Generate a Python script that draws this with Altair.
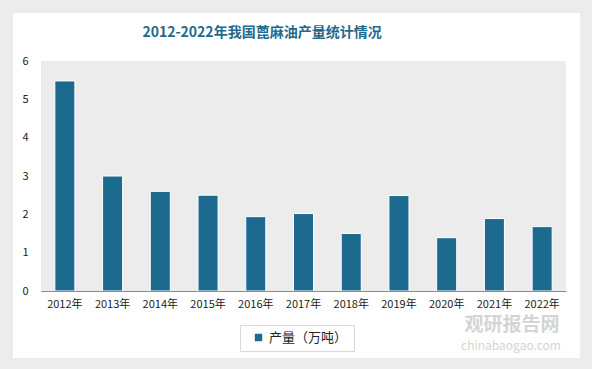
import altair as alt
import pandas as pd

years = ["2012年", "2013年", "2014年", "2015年", "2016年", "2017年",
         "2018年", "2019年", "2020年", "2021年", "2022年"]
values = [5.48, 3.0, 2.6, 2.5, 1.94, 2.02, 1.5, 2.49, 1.39, 1.89, 1.68]
series_name = "产量（万吨）"
title_text = "2012-2022年我国蓖麻油产量统计情况"

df = pd.DataFrame({"year": years, "value": values, "series": series_name})

FONT = "Noto Sans CJK SC"
BAR = "#1c6b8f"
W, H = 525, 230

one = alt.Data(values=[{}])

card = alt.Chart(one).mark_rect(color="white").encode(
    x=alt.value(-28), x2=alt.value(539), y=alt.value(-48), y2=alt.value(297)
)
plotbg = alt.Chart(one).mark_rect(color="#ececec").encode(
    x=alt.value(0), x2=alt.value(W), y=alt.value(0), y2=alt.value(H)
)

bars = alt.Chart(df).mark_bar(stroke="white", strokeWidth=1).encode(
    x=alt.X("year:N", sort=years, title=None,
            scale=alt.Scale(paddingInner=0.58, paddingOuter=0.29),
            axis=alt.Axis(labelAngle=0, ticks=False, domainColor="#8c8c8c",
                          labelFont=FONT, labelFontSize=11, labelColor="#222",
                          labelPadding=7, zindex=1)),
    y=alt.Y("value:Q", title=None,
            scale=alt.Scale(domain=[0, 6], nice=False),
            axis=alt.Axis(values=[0, 1, 2, 3, 4, 5, 6], domain=False, ticks=False,
                          grid=False, labelFont=FONT, labelFontSize=11,
                          labelColor="#222", labelPadding=13, zindex=1)),
    color=alt.Color("series:N", scale=alt.Scale(range=[BAR]),
                    legend=alt.Legend(title=None, orient="none", legendX=199, legendY=264,
                                      direction="horizontal", strokeColor="#d9d9d9",
                                      padding=6, symbolType="square", symbolSize=80,
                                      labelFont=FONT, labelFontSize=13, labelColor="#222",
                                      symbolOffset=6, zindex=1)),
)

title = alt.Chart(one).mark_text(
    text=title_text, font=FONT, fontSize=14, fontWeight="bold",
    color="#1f6a8e", align="center", baseline="middle"
).encode(x=alt.value(221), y=alt.value(-28))

wm1 = alt.Chart(one).mark_text(
    text="观研报告网", font=FONT, fontSize=19, fontWeight="bold",
    color="#d4d4d4", align="center", baseline="middle"
).encode(x=alt.value(471), y=alt.value(264))
wm2 = alt.Chart(one).mark_text(
    text="chinabaogao.com", font=FONT, fontSize=12,
    color="#d4d4d4", align="center", baseline="middle"
).encode(x=alt.value(470), y=alt.value(285))

chart = alt.layer(card, plotbg, bars, title, wm1, wm2).properties(
    width=W, height=H,
    autosize=alt.AutoSizeParams(type="none"),
    padding={"left": 41, "top": 61, "right": 26, "bottom": 78},
    background="#ececec",
).configure_view(stroke=None)

chart.save("out.html", embed_options={"renderer": "svg", "actions": False})
